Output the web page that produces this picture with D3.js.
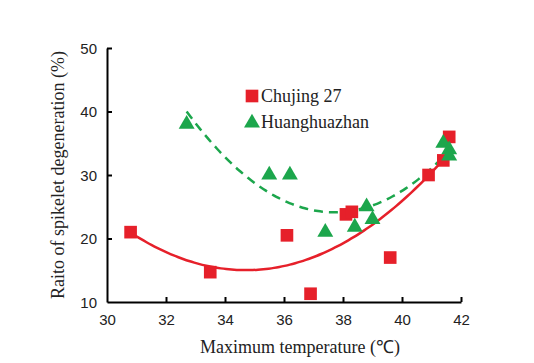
<!DOCTYPE html>
<html>
<head>
<meta charset="utf-8">
<script src="https://cdn.jsdelivr.net/npm/d3@7"></script>
<style>
  body { margin: 0; background: #fff; }
  svg { display: block; }
</style>
</head>
<body>
<svg id="chart"></svg>
<script>
// Chujing 27 (squares)
var chujingX = [30.8, 33.5, 36.1, 36.9, 38.1, 38.3, 39.6, 40.9, 41.4, 41.6];
var chujingY = [21.0, 14.7, 20.5, 11.3, 23.8, 24.2, 17.0, 30.0, 32.3, 36.0];
// Huanghuazhan (triangles)
var hhzX = [32.7, 35.5, 36.2, 37.4, 38.4, 38.8, 39.0, 41.4, 41.6, 41.6];
var hhzY = [38.0, 30.0, 30.0, 21.0, 21.8, 25.0, 23.0, 35.0, 34.0, 33.0];
// trend lines, quadratic: c + b*x + a*x^2
var chujingFit = [482.3, -26.93, 0.388];
var hhzFit = [927.9, -47.95, 0.636];
var chujingRange = [30.8, 41.6];
var hhzRange = [32.7, 41.6];

var xTicks = [30, 32, 34, 36, 38, 40, 42];
var yTicks = [10, 20, 30, 40, 50];

var width = 534, height = 363;
var red = "#e6202a", green = "#1ca64c";
var serif = "'Liberation Serif', 'Times New Roman', serif";

var svg = d3.select("#chart").attr("width", width).attr("height", height);

var x = d3.scaleLinear().domain([30, 42]).range([107, 461]);
var y = d3.scaleLinear().domain([10, 50]).range([302, 48]);

// ejes
var xAxis = svg.append("g")
    .attr("transform", "translate(0," + y(10) + ")")
    .call(d3.axisBottom(x).tickValues(xTicks).tickSizeInner(-5).tickSizeOuter(0).tickPadding(12));
var yAxis = svg.append("g")
    .attr("transform", "translate(" + x(30) + ",0)")
    .call(d3.axisLeft(y).tickValues(yTicks).tickSizeInner(-5).tickSizeOuter(0).tickPadding(10));

[xAxis, yAxis].forEach(function (a) {
    a.select(".domain").attr("stroke", "#000").attr("stroke-width", 2);
    a.selectAll(".tick line").attr("stroke", "#000").attr("stroke-width", 2);
    a.selectAll(".tick text")
        .style("font", "15px 'Liberation Sans', Arial, sans-serif")
        .attr("fill", "#222");
});
xAxis.selectAll(".tick").filter(function (d) { return d === 30; }).select("line").remove();
yAxis.selectAll(".tick").filter(function (d) { return d === 10; }).select("line").remove();
yAxis.selectAll(".tick text").attr("dy", "0.35em");

// lineas de tendencia
function fitPoints(coef, range) {
    var pts = [];
    var n = 60;
    for (var i = 0; i <= n; i++) {
        var xv = range[0] + (range[1] - range[0]) * i / n;
        pts.push([xv, coef[0] + coef[1] * xv + coef[2] * xv * xv]);
    }
    return pts;
}
var line = d3.line()
    .x(function (d) { return x(d[0]); })
    .y(function (d) { return y(d[1]); })
    .curve(d3.curveBasis);

svg.append("path")
    .attr("d", line(fitPoints(hhzFit, hhzRange)))
    .attr("fill", "none")
    .attr("stroke", green)
    .attr("stroke-width", 2.5)
    .attr("stroke-dasharray", "9,6");

svg.append("path")
    .attr("d", line(fitPoints(chujingFit, chujingRange)))
    .attr("fill", "none")
    .attr("stroke", red)
    .attr("stroke-width", 2.5);

// puntos
var square = d3.symbol().type(d3.symbolSquare).size(160);
var triangle = d3.symbol().type(d3.symbolTriangle).size(110);

svg.selectAll(".chujing")
    .data(d3.zip(chujingX, chujingY))
    .join("path")
    .attr("class", "chujing")
    .attr("d", square)
    .attr("fill", red)
    .attr("transform", function (d) { return "translate(" + x(d[0]) + "," + y(d[1]) + ")"; });

svg.selectAll(".hhz")
    .data(d3.zip(hhzX, hhzY))
    .join("path")
    .attr("class", "hhz")
    .attr("d", triangle)
    .attr("fill", green)
    .attr("transform", function (d) { return "translate(" + x(d[0]) + "," + y(d[1]) + ")"; });

// leyenda
var legend = svg.append("g").attr("transform", "translate(252,0)");
legend.append("path").attr("d", square).attr("fill", red).attr("transform", "translate(0,96)");
legend.append("path").attr("d", triangle).attr("fill", green).attr("transform", "translate(0,123)");
legend.append("text").attr("x", 9).attr("y", 102).text("Chujing 27")
    .style("font", "18px " + serif).attr("fill", "#222");
legend.append("text").attr("x", 9).attr("y", 128).text("Huanghuazhan")
    .style("font", "18px " + serif).attr("fill", "#222");

// titulos de ejes
svg.append("text")
    .attr("x", 300).attr("y", 353)
    .attr("text-anchor", "middle")
    .style("font", "18px " + serif)
    .attr("fill", "#222")
    .text("Maximum temperature (℃)");

svg.append("text")
    .attr("transform", "translate(64,175) rotate(-90)")
    .attr("text-anchor", "middle")
    .style("font", "18px " + serif)
    .attr("fill", "#222")
    .text("Raito of spikelet degeneration (%)");
</script>
</body>
</html>
